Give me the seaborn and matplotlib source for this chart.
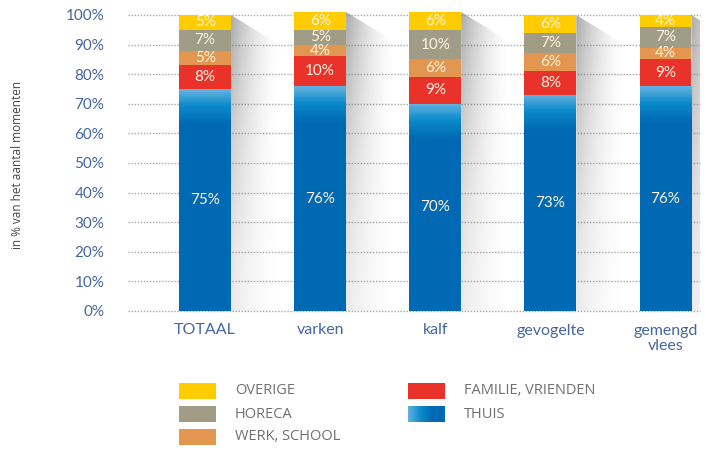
import numpy as np
import pandas as pd
import matplotlib
matplotlib.use("Agg")
import matplotlib.pyplot as plt
import seaborn as sns
from matplotlib.colors import LinearSegmentedColormap
from matplotlib.patches import Polygon, Rectangle

# ---- data (percent of eating moments per location) ----
categories = ["TOTAAL", "varken", "kalf", "gevogelte", "gemengd\nvlees"]
thuis = [75, 76, 70, 73, 76]
familie = [8, 10, 9, 8, 9]
werk = [5, 4, 6, 6, 4]
horeca = [7, 5, 10, 7, 7]
overige = [5, 6, 6, 6, 4]

series_names = ["THUIS", "FAMILIE, VRIENDEN", "WERK, SCHOOL", "HORECA", "OVERIGE"]
series_values = [thuis, familie, werk, horeca, overige]
y_ticks = [0, 10, 20, 30, 40, 50, 60, 70, 80, 90, 100]

colors = {
    "THUIS": "#0069B4",
    "FAMILIE, VRIENDEN": "#E8322A",
    "WERK, SCHOOL": "#E3964F",
    "HORECA": "#A09C85",
    "OVERIGE": "#FFCC00",
}
thuis_light = "#63B2E0"
thuis_mid = "#0C8BCB"
tick_color = "#46669E"
label_color = "#FFF4E2"

sns.set_theme(style="white")
plt.rcParams["font.family"] = ["Lato", "DejaVu Sans"]

W, H = 706, 451
fig = plt.figure(figsize=(W / 100, H / 100), dpi=100)

# axes placement in pixels
ax_left, ax_right, ax_bottom = 128, 700, 311
px_per_unit = 2.96
ymax = 102
ax_top = ax_bottom - ymax * px_per_unit
ax = fig.add_axes([ax_left / W, (H - ax_bottom) / H,
                   (ax_right - ax_left) / W, (ax_bottom - ax_top) / H])

# long table with cumulative tops so the stack can be drawn tallest first
rows = []
cum = np.zeros(len(categories))
for name, vals in zip(series_names, series_values):
    bottom = cum.copy()
    cum = cum + np.array(vals, dtype=float)
    for i, c in enumerate(categories):
        rows.append({"categorie": c, "reeks": name, "waarde": vals[i],
                     "onder": bottom[i], "top": cum[i]})
df = pd.DataFrame(rows)

bar_w = 0.45
containers = {}
for name in reversed(series_names):
    sub = df[df["reeks"] == name]
    sns.barplot(data=sub, x="categorie", y="top", order=categories,
                color=colors[name], width=bar_w, saturation=1,
                edgecolor="none", linewidth=0, ax=ax, zorder=3)
    containers[name] = ax.containers[-1]

# vertical gradient at the top of the THUIS bars
grad_cmap = LinearSegmentedColormap.from_list(
    "thuis", [(0.0, colors["THUIS"]), (0.82, colors["THUIS"]),
              (0.92, thuis_mid), (1.0, thuis_light)])
for patch, top in zip(containers["THUIS"].patches, thuis):
    x0 = patch.get_x()
    w = patch.get_width()
    ys = np.linspace(0, top, 300)
    depth = top - ys  # distance below the top of the bar
    t = np.clip(1 - depth / 12.0, 0, 1)
    t = 0.82 + 0.18 * t
    t[depth > 12] = 0.0
    img = t[:, None]
    im = ax.imshow(img, cmap=grad_cmap, vmin=0, vmax=1, origin="lower",
                   extent=[x0, x0 + w, 0, top], aspect="auto", zorder=4)
    im.set_clip_path(patch)

# soft drop shadow to the right of each bar
shadow_w = 0.42
for i, patch in enumerate(containers["OVERIGE"].patches):
    xr = patch.get_x() + patch.get_width()
    top = patch.get_height()
    nx, ny = 120, 120
    xs = np.linspace(0, 1, nx)
    ys = np.linspace(0, 1, ny)
    a = (1 - xs[None, :]) ** 1.6 * (0.25 + 0.75 * ys[:, None] ** 1.5) * 0.6
    rgba = np.zeros((ny, nx, 4))
    rgba[..., :3] = 0.45
    rgba[..., 3] = a
    poly = Polygon([(xr, top), (xr + shadow_w, top - 10),
                    (xr + shadow_w, 0), (xr, 0)], closed=True,
                   facecolor="none", edgecolor="none", transform=ax.transData)
    ax.add_patch(poly)
    im = ax.imshow(rgba, origin="lower", extent=[xr, xr + shadow_w, 0, top],
                   aspect="auto", zorder=2, interpolation="bilinear")
    im.set_clip_path(poly)

# segment value labels
for name, vals in zip(series_names, series_values):
    sub = df[df["reeks"] == name]
    for i, (_, r) in enumerate(sub.iterrows()):
        ax.text(i, (r["onder"] + r["top"]) / 2, f"{r['waarde']}%",
                ha="center", va="center", color=label_color,
                fontsize=11, zorder=6)

# dotted gridlines
for yv in y_ticks:
    ax.axhline(yv, color="#A8A8A8", lw=1.0, ls=(0, (1, 1.2)), zorder=1,
               clip_on=False)

ax.set_xlim(-0.67, 4.30)
ax.set_ylim(0, ymax)
ax.set_yticks(y_ticks)
ax.set_yticklabels([f"{v}%" for v in y_ticks])
ax.tick_params(axis="y", length=0, pad=17, labelsize=11, labelcolor=tick_color)
ax.tick_params(axis="x", length=0, pad=9, labelsize=11.5, labelcolor=tick_color)
for lbl in ax.get_xticklabels():
    lbl.set_linespacing(1.15)
ax.set_xlabel("")
ax.set_ylabel("")
for s in ax.spines.values():
    s.set_visible(False)

fig.text(18 / W, 1 - 165 / H, "in % van het aantal momenten", rotation=90,
         ha="center", va="center", fontsize=8.5, color="#444444",
         family=["Open Sans", "DejaVu Sans"])

# legend drawn in figure pixels
legend_items = [
    ("OVERIGE", 179, 391),
    ("HORECA", 179, 414),
    ("WERK, SCHOOL", 179, 437),
    ("FAMILIE, VRIENDEN", 408, 391),
    ("THUIS", 408, 414),
]
pw, ph = 37, 16
for name, px, py in legend_items:
    if name == "THUIS":
        lax = fig.add_axes([px / W, (H - py - ph / 2) / H, pw / W, ph / H])
        lcmap = LinearSegmentedColormap.from_list(
            "thuis_h", [thuis_light, thuis_mid, colors["THUIS"], colors["THUIS"]])
        lax.imshow(np.linspace(0, 1, 100)[None, :], cmap=lcmap, aspect="auto")
        lax.set_axis_off()
    else:
        fig.add_artist(Rectangle((px / W, (H - py - ph / 2) / H), pw / W, ph / H,
                                 transform=fig.transFigure, facecolor=colors[name],
                                 edgecolor="none"))
    fig.text((px + 56) / W, 1 - py / H, name, ha="left", va="center",
             fontsize=10.5, color="#707070", family=["Open Sans", "DejaVu Sans"])

fig.savefig("out.png", dpi=100)
